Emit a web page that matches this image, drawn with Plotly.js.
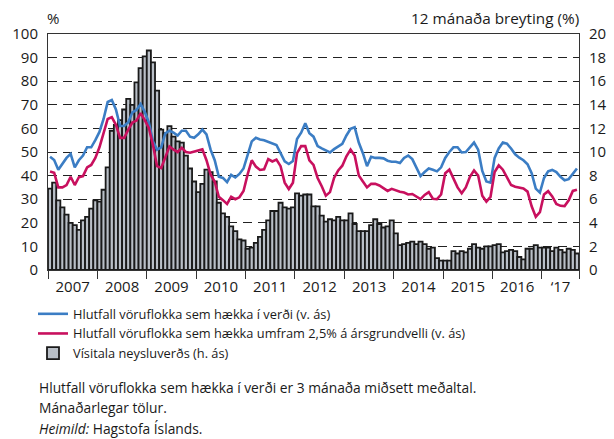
<!DOCTYPE html>
<html>
<head>
<meta charset="utf-8">
<script src="https://cdn.plot.ly/plotly-3.0.1.min.js"></script>
<style>html,body{margin:0;padding:0;background:#fff;}#chart{width:614px;height:439px;}</style>
</head>
<body>
<div id="chart"></div>
<script>
// Months: Jan 2007 .. Sep 2017 (129 months)
const nMonths = 129;
const yearLabels = ['2007','2008','2009','2010','2011','2012','2013','2014','2015','2016','\u201817'];

// 12-month change in CPI (%), right axis
const cpi = [
  6.9,7.4,5.9,5.3,4.7,4.0,3.8,3.4,4.2,4.5,5.2,5.9,
  5.8,6.8,8.7,11.8,12.3,12.7,13.6,14.5,14.0,15.9,17.1,18.1,
  18.6,17.6,15.2,11.9,11.6,12.2,11.3,10.9,10.8,9.7,8.6,7.5,
  6.6,7.3,8.5,8.3,7.5,5.7,4.8,4.5,3.7,3.3,2.6,2.5,
  1.8,1.9,2.3,2.8,3.4,4.2,5.0,5.0,5.7,5.3,5.2,5.3,
  6.5,6.3,6.4,6.4,5.4,5.4,4.6,4.1,4.3,4.2,4.5,4.2,
  4.2,4.8,3.9,3.3,3.3,3.3,3.8,4.3,3.9,3.6,3.7,4.2,
  3.1,2.1,2.2,2.3,2.4,2.2,2.4,2.2,1.8,1.9,1.0,0.8,
  0.8,0.8,1.6,1.4,1.6,1.5,1.8,2.2,1.9,1.8,2.0,2.0,
  2.1,2.2,1.5,1.6,1.7,1.6,1.1,0.9,1.8,1.8,2.1,1.9,
  1.9,1.9,1.6,1.9,1.7,1.5,1.8,1.7,1.4
];

// Share of item groups rising in price (%), left axis
const shareRising = [
  48,46.6,42.5,45,47.5,49.2,43.5,46.5,48.5,52,52,55,
  58.5,64,71.2,72,68,61,61,62.6,66.8,67.8,70.3,67,
  62.5,54.5,51,52,57.9,59,58.2,57,59,59,56.5,56,
  57.5,59.5,57.5,51,46.5,39.5,39,37.2,40.3,39.2,40.7,43,
  49,54.5,56,55.3,55,54.3,53.6,53,49.5,46,44.9,46.2,
  55.5,58.2,62.2,58,56.5,52.5,51.5,50.5,49.8,51.2,52.3,53.5,
  57,59.8,60.5,54,49.5,44,48,47.5,47.5,47.3,46.3,45.9,
  45.9,45.3,47.5,48.5,47,43,39.8,41.5,43,42.5,41.8,43.5,
  47.5,50,52,52,49.8,50,51.8,54,51,42,37.5,37,
  47.5,51.5,54,53.5,51.5,49,47.6,46.5,44.8,41,34.5,32.8,
  39,41.8,42.4,41.5,39.5,38,38.5,41,43
];

// Share of item groups rising more than 2.5% y/y (%), left axis
const shareAbove25 = [
  41.7,41.2,35,35,36,39.5,36,39.3,39.8,43.5,44.5,47.5,
  52,58,64,64.8,61.5,56,56,59.5,62.5,63.3,66.5,63.5,
  60.2,53,44,43.2,48,52.3,51,50,51.8,50,49.7,50.2,
  50.8,51.1,46.5,40.5,37.4,31,29.6,28,31,30,30.8,33.5,
  40.5,46.5,43.8,42.4,42.7,47,46,46.8,44,37,34.3,37,
  49.5,52.5,52.5,46.5,44.5,39,35.5,31.5,33,39,42.2,44.2,
  48.2,51,48.5,40,37.5,35,36.5,36.5,35.8,34.6,33.5,34.4,
  33.7,33.2,32.8,32,32.2,31,30,31.8,33,30.2,30,32,
  41,42.5,38.5,35,32.5,35,39.5,42.2,40,31.5,29,31,
  41.5,44.3,42.5,39,36,35.3,35,34.5,33.2,27,22.5,24.5,
  32,33.4,31.2,28,27.2,27.1,29.5,33.5,34
];

const seriesNames = [
  'Hlutfall vöruflokka sem hækka í verði (v. ás)',
  'Hlutfall vöruflokka sem hækka umfram 2,5% á ársgrundvelli (v. ás)',
  'Vísitala neysluverðs (h. ás)'
];
const notes = [
  'Hlutfall vöruflokka sem hækka í verði er 3 mánaða miðsett meðaltal.',
  'Mánaðarlegar tölur.',
  '<i>Heimild:</i> Hagstofa Íslands.'
];

const idx = cpi.map((_, i) => i);
const yearBounds = [];
const yearMids = [];
for (let k = 0; k < yearLabels.length; k++) {
  const a = k * 12 - 0.5;
  const b = Math.min(a + 12, nMonths - 0.5);
  yearBounds.push(a);
  yearMids.push((a + b) / 2);
}
yearBounds.push(nMonths - 0.5);

const FONT = 'Open Sans, sans-serif';
const TXT = '#1a1a1a';
// plot area in pixels
const PL = 48, PR = 579, PT = 34, PB = 270;
const px = v => (v - PL) / (PR - PL);
const py = v => (PB - v) / (PB - PT);

const traces = [
  {
    type: 'bar', x: idx, y: cpi, xaxis: 'x', yaxis: 'y', name: seriesNames[2],
    marker: {color: '#b9bfc7', line: {color: '#1a1a1a', width: 1.8}},
    legendrank: 3, hoverinfo: 'skip'
  },
  {
    type: 'scatter', mode: 'lines', x: idx, y: shareRising, xaxis: 'x', yaxis: 'y2', name: seriesNames[0],
    line: {color: '#3b7dc4', width: 2.6}, legendrank: 1
  },
  {
    type: 'scatter', mode: 'lines', x: idx, y: shareAbove25, xaxis: 'x', yaxis: 'y2', name: seriesNames[1],
    line: {color: '#c8105e', width: 2.6}, legendrank: 2
  },
  {
    type: 'scatter', mode: 'lines', x: [], y: [], xaxis: 'x2', yaxis: 'y', showlegend: false, hoverinfo: 'skip'
  }
];

const annotations = [
  {text: '%', xref: 'paper', yref: 'paper', x: px(53), y: py(18), xanchor: 'center', yanchor: 'middle', showarrow: false, font: {family: FONT, size: 15, color: TXT}},
  {text: '12 mánaða breyting (%)', xref: 'paper', yref: 'paper', x: px(581), y: py(18), xanchor: 'right', yanchor: 'middle', showarrow: false, font: {family: FONT, size: 15.3, color: TXT}}
];
const noteY = [387, 407, 428];
notes.forEach((t, k) => annotations.push({
  text: t, xref: 'paper', yref: 'paper', x: px(37), y: py(noteY[k]), xanchor: 'left', yanchor: 'middle',
  showarrow: false, font: {family: FONT, size: 13.8, color: TXT}
}));

const layout = {
  width: 614, height: 439,
  margin: {l: PL, r: 614 - PR, t: PT, b: 439 - PB, autoexpand: false},
  paper_bgcolor: '#fff', plot_bgcolor: '#fff',
  showlegend: true,
  bargap: 0,
  font: {family: FONT, size: 15, color: TXT},
  legend: {
    x: px(33), y: py(299), xanchor: 'left', yanchor: 'top',
    font: {family: FONT, size: 12.8, color: TXT}, traceorder: 'normal', tracegroupgap: 0,
    bgcolor: 'rgba(0,0,0,0)', itemwidth: 30
  },
  xaxis: {
    domain: [0, 1], range: [-0.5, nMonths - 0.5], tickmode: 'array', tickvals: yearBounds,
    showticklabels: false, ticks: 'outside', ticklen: 8, tickwidth: 1, tickcolor: '#333',
    showline: true, linecolor: '#333', linewidth: 1, mirror: true, showgrid: false, zeroline: false, fixedrange: true
  },
  xaxis2: {
    overlaying: 'x', anchor: 'y', side: 'bottom', range: [-0.5, nMonths - 0.5], tickmode: 'array',
    tickvals: yearMids, ticktext: yearLabels, ticks: '', showline: false, showgrid: false, zeroline: false,
    tickfont: {family: FONT, size: 15, color: TXT}, ticklabelstandoff: 6, tickangle: 0
  },
  yaxis: {
    side: 'right', range: [0, 20], tickmode: 'linear', tick0: 0, dtick: 2,
    showgrid: true, gridcolor: '#222', gridwidth: 1, griddash: '9px,6px',
    showline: true, linecolor: '#333', linewidth: 1, ticks: '', zeroline: false,
    tickfont: {family: FONT, size: 15, color: TXT}, ticklabelstandoff: 6
  },
  yaxis2: {
    overlaying: 'y', side: 'left', range: [0, 100], tickmode: 'linear', tick0: 0, dtick: 10,
    showgrid: false, showline: true, linecolor: '#333', linewidth: 1, ticks: '', zeroline: false,
    tickfont: {family: FONT, size: 15, color: TXT}, ticklabelstandoff: 6
  },
  annotations: annotations
};

Plotly.newPlot('chart', traces, layout, {displayModeBar: false, staticPlot: true});
</script>
</body>
</html>
